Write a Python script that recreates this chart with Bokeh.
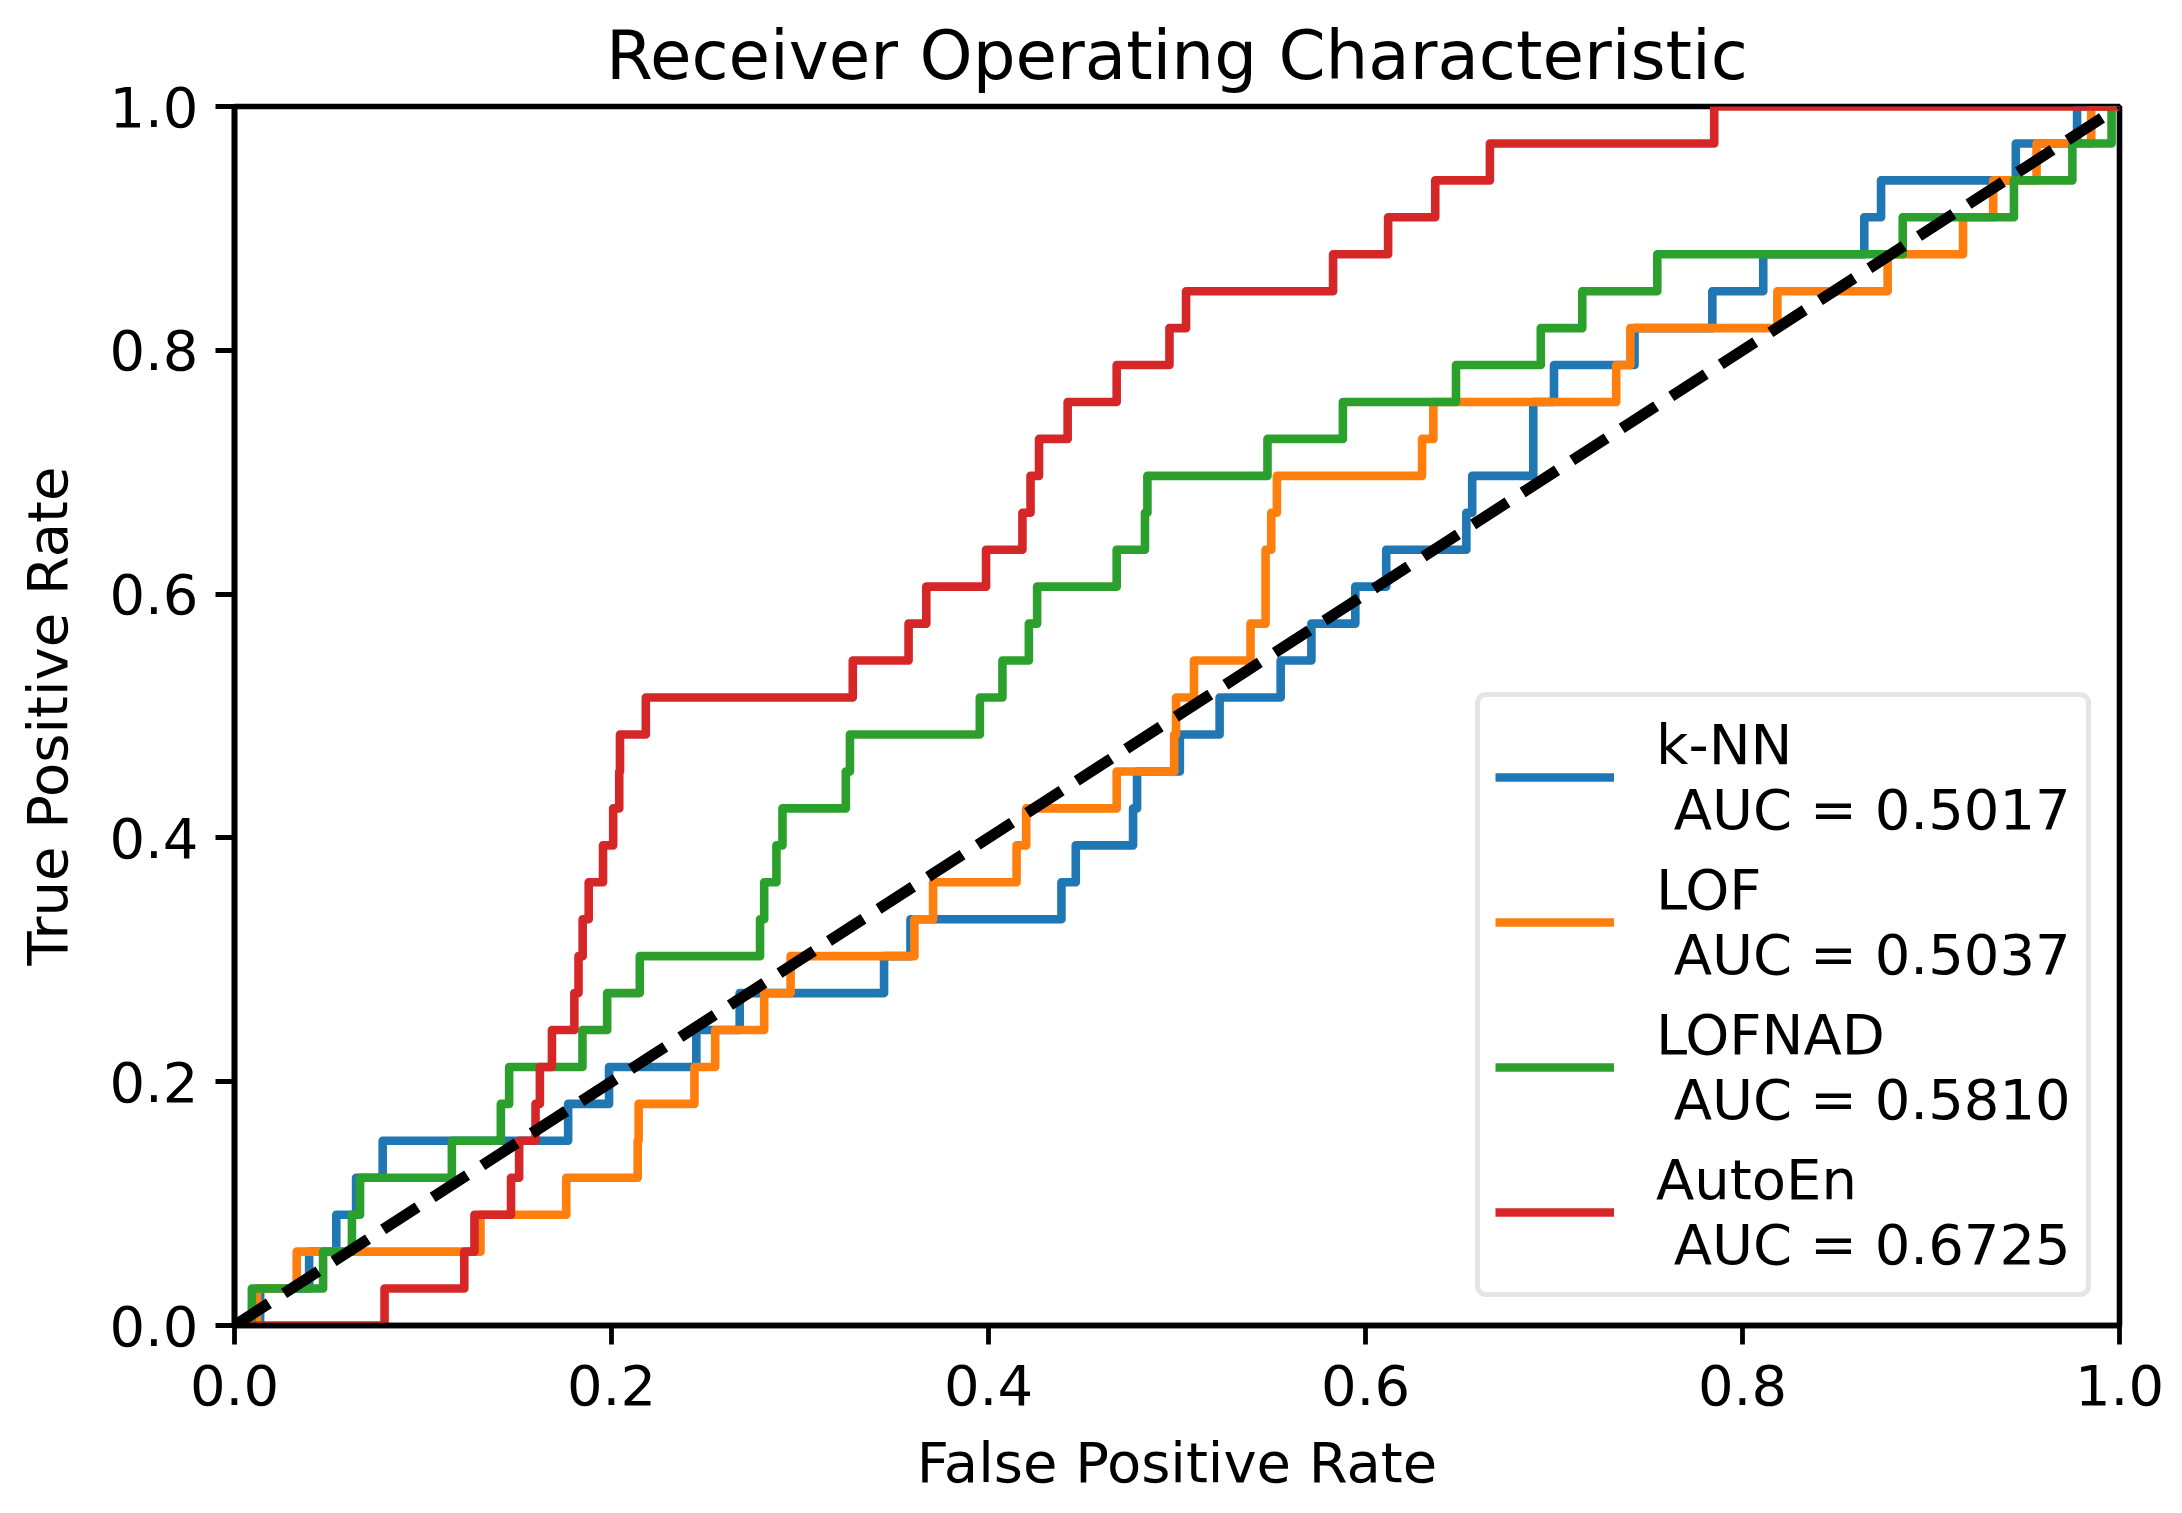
from bokeh.plotting import figure
from bokeh.models import Range1d, FixedTicker, PrintfTickFormatter
from bokeh.embed import file_html
from bokeh.resources import INLINE

# ---------------- data ----------------
methods = ["k-NN", "LOF", "LOFNAD", "AutoEn"]
aucs = [0.5017, 0.5037, 0.5810, 0.6725]
colors = ["#1f77b4", "#ff7f0e", "#2ca02c", "#d62728"]

knn_fpr = [0.0, 0.0136, 0.0396, 0.054, 0.0645, 0.0786, 0.177, 0.1987, 0.245, 0.268,
           0.3446, 0.3586, 0.4387, 0.4463, 0.4767, 0.4788, 0.5015, 0.5226, 0.555, 0.5713,
           0.5946, 0.611, 0.6535, 0.6566, 0.689, 0.700, 0.7427, 0.784, 0.811, 0.8646,
           0.8735, 0.945, 0.9775, 1.0]
knn_tpr = [0.0, 0.0303, 0.0606, 0.0909, 0.1212, 0.1515, 0.1818, 0.2121, 0.2424, 0.2727,
           0.3030, 0.3333, 0.3636, 0.3939, 0.4242, 0.4545, 0.4848, 0.5152, 0.5455, 0.5758,
           0.6061, 0.6364, 0.6667, 0.6970, 0.7576, 0.7879, 0.8182, 0.8485, 0.8788, 0.9091,
           0.9394, 0.9697, 1.0, 1.0]

lof_fpr = [0.0, 0.012, 0.033, 0.1305, 0.176, 0.2139, 0.2144, 0.244, 0.255, 0.281,
           0.295, 0.3607, 0.3706, 0.4149, 0.420, 0.468, 0.4985, 0.4995, 0.509, 0.539,
           0.547, 0.550, 0.553, 0.630, 0.636, 0.733, 0.7405, 0.8185, 0.877, 0.917,
           0.933, 0.956, 0.985, 1.0]
lof_tpr = [0.0, 0.0303, 0.0606, 0.0909, 0.1212, 0.1515, 0.1818, 0.2121, 0.2424, 0.2727,
           0.3030, 0.3333, 0.3636, 0.3939, 0.4242, 0.4545, 0.4848, 0.5152, 0.5455, 0.5758,
           0.6364, 0.6667, 0.6970, 0.7273, 0.7576, 0.7879, 0.8182, 0.8485, 0.8788, 0.9091,
           0.9394, 0.9697, 1.0, 1.0]

lofnad_fpr = [0.0, 0.0092, 0.047, 0.0623, 0.0666, 0.1153, 0.1413, 0.1457, 0.1846, 0.1977,
              0.215, 0.2788, 0.281, 0.2875, 0.2907, 0.3243, 0.3265, 0.3954, 0.4074, 0.4214,
              0.4258, 0.468, 0.483, 0.4843, 0.548, 0.588, 0.648, 0.693, 0.715, 0.7548,
              0.885, 0.944, 0.975, 0.9958, 1.0]
lofnad_tpr = [0.0, 0.0303, 0.0606, 0.0909, 0.1212, 0.1515, 0.1818, 0.2121, 0.2424, 0.2727,
              0.3030, 0.3333, 0.3636, 0.3939, 0.4242, 0.4545, 0.4848, 0.5152, 0.5455, 0.5758,
              0.6061, 0.6364, 0.6667, 0.6970, 0.7273, 0.7576, 0.7879, 0.8182, 0.8485, 0.8788,
              0.9091, 0.9394, 0.9697, 1.0, 1.0]

autoen_fpr = [0.0, 0.0796, 0.1219, 0.1273, 0.1467, 0.151, 0.1597, 0.162, 0.1684, 0.1803,
              0.1825, 0.1847, 0.1879, 0.1955, 0.2009, 0.2041, 0.2045, 0.2182, 0.328, 0.3576,
              0.367, 0.3987, 0.418, 0.4223, 0.4268, 0.442, 0.468, 0.496, 0.5048, 0.5828,
              0.612, 0.637, 0.666, 0.785, 1.0]
autoen_tpr = [0.0, 0.0303, 0.0606, 0.0909, 0.1212, 0.1515, 0.1818, 0.2121, 0.2424, 0.2727,
              0.3030, 0.3333, 0.3636, 0.3939, 0.4242, 0.4545, 0.4848, 0.5152, 0.5455, 0.5758,
              0.6061, 0.6364, 0.6667, 0.6970, 0.7273, 0.7576, 0.7879, 0.8182, 0.8485, 0.8788,
              0.9091, 0.9394, 0.9697, 1.0, 1.0]

chance = [0.0, 1.0]
tick_values = [0.0, 0.2, 0.4, 0.6, 0.8, 1.0]

title_text = "Receiver Operating Characteristic"
xlabel = "False Positive Rate"
ylabel = "True Positive Rate"

# ---------------- figure ----------------
FONT = "DejaVu Sans"
FS = "56px"
INK = "black"

p = figure(width=2166, height=1497, output_backend="svg", toolbar_location=None,
           x_range=Range1d(0, 1), y_range=Range1d(0, 1),
           min_border_left=234, min_border_right=47, min_border_top=106, min_border_bottom=166)

p.title.text = title_text
p.title.text_font = FONT
p.title.text_font_size = "67.5px"
p.title.text_font_style = "normal"
p.title.text_color = INK
p.title.align = "center"
p.title.standoff = 24

p.grid.visible = False
p.outline_line_color = "black"
p.outline_line_width = 5.6
p.background_fill_color = "white"
p.border_fill_color = "white"

for ax, lab, lstand, tstand in ((p.xaxis[0], xlabel, 22, 20), (p.yaxis[0], ylabel, 26, 17)):
    ax.ticker = FixedTicker(ticks=tick_values, minor_ticks=[])
    ax.formatter = PrintfTickFormatter(format="%.1f")
    ax.axis_label = lab
    ax.axis_label_text_font = FONT
    ax.axis_label_text_font_size = FS
    ax.axis_label_text_font_style = "normal"
    ax.axis_label_text_color = INK
    ax.major_label_text_font = FONT
    ax.major_label_text_font_size = FS
    ax.major_label_text_color = INK
    ax.major_tick_out = 19
    ax.major_tick_in = 0
    ax.major_tick_line_width = 4.8
    ax.major_tick_line_color = INK
    ax.axis_line_width = 5.6
    ax.axis_line_color = INK
    ax.major_label_standoff = tstand
    ax.axis_label_standoff = lstand

series = [(knn_fpr, knn_tpr), (lof_fpr, lof_tpr), (lofnad_fpr, lofnad_tpr), (autoen_fpr, autoen_tpr)]
for (fx, ty), m, a, c in zip(series, methods, aucs, colors):
    p.step(fx, ty, mode="after", line_color=c, line_width=8.6, line_join="round",
           legend_label=f"{m}\n AUC = {a:.4f}")

p.line(chance, chance, line_color="black", line_width=11.1, line_dash="41 18")

lg = p.legend[0]
lg.location = "bottom_right"
lg.margin = 28
lg.padding = 15
lg.spacing = 15
lg.glyph_width = 119
lg.glyph_height = 40
lg.label_standoff = 42
lg.label_width = 415
lg.label_text_font = FONT
lg.label_text_font_size = FS
lg.label_text_color = INK
lg.label_text_line_height = 1.2
lg.border_line_color = "#cccccc"
lg.border_line_width = 5
lg.background_fill_color = "white"
lg.background_fill_alpha = 0.8
if "border_radius" in lg.properties():
    lg.border_radius = 11

open("out.html", "w").write(file_html(p, INLINE))
